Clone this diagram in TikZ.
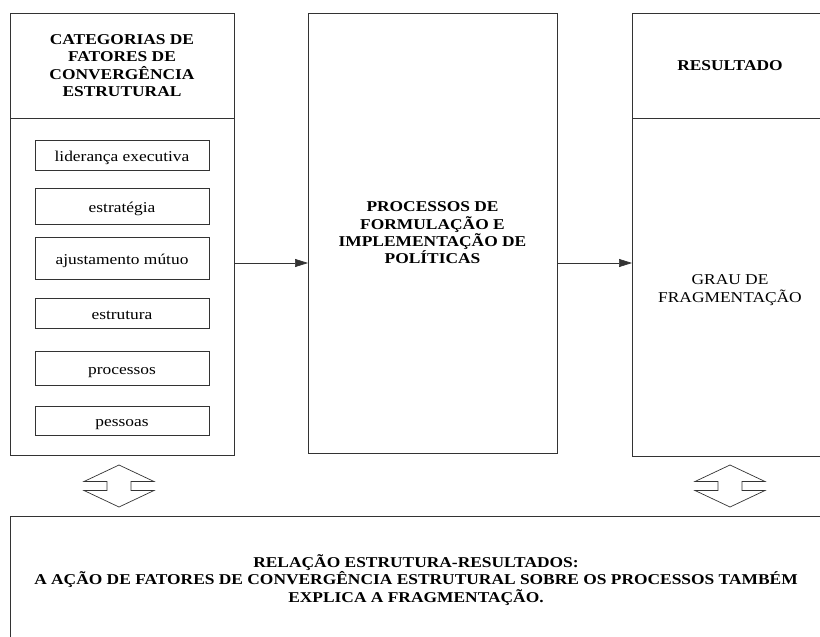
\documentclass[tikz,border=0pt]{standalone}
\usepackage{fontspec}
\setmainfont{Liberation Serif}[FakeStretch=1.16]
\usetikzlibrary{positioning, arrows.meta}

\tikzset{
  dblarrow/.pic={
    \draw[draw=black!80, line width=0.7pt]
      (-35,-4.5) -- (0,-21) -- (35,-4.5) -- (12,-4.5) -- (12,4.5) -- (35,4.5)
      -- (0,21) -- (-35,4.5) -- (-12,4.5) -- (-12,-4.5) -- cycle;
  }
}

\begin{document}
\begin{tikzpicture}[x=1pt,y=-1pt,
    frame/.style={draw=black!80, line width=0.7pt, rectangle, inner sep=0pt, outer sep=0pt},
    box/.style={frame, align=center},
    txt/.style={font=\fontsize{15}{17.4}\selectfont},
    head/.style={font=\fontsize{15}{17.4}\selectfont\bfseries},
    item/.style={frame, txt, minimum width=174pt, text height=12.8pt, text depth=0pt},
    arr/.style={-{Triangle[length=13pt,width=8pt]}, draw=black!80, line width=0.7pt}]
    \useasboundingbox (0,0) rectangle (820,637);

    % left column
    \node[box, head, minimum width=224pt, minimum height=105pt] (cat) at (122,65.5)
        {CATEGORIAS DE\\FATORES DE\\CONVERGÊNCIA\\ESTRUTURAL};
    \node[frame, minimum width=224pt, minimum height=337pt, below=0pt of cat] (catbody) {};

    \node[item, minimum height=30pt] (lid) at (122,155) {liderança executiva};
    \node[item, minimum height=36pt] (estr) at (122,206) {estratégia};
    \node[item, minimum height=42pt] (ajus) at (122,258) {ajustamento mútuo};
    \node[item, minimum height=30pt] (estru) at (122,313) {estrutura};
    \node[item, minimum height=34pt] (proc1) at (122,368) {processos};
    \node[item, minimum height=29pt] (pess) at (122,420.5) {pessoas};

    % middle
    \node[box, head, minimum width=249pt, minimum height=440pt] (proc) at (432.5,233)
        {PROCESSOS DE\\FORMULAÇÃO E\\IMPLEMENTAÇÃO DE\\POLÍTICAS};

    % right column
    \node[box, head, minimum width=196pt, minimum height=105pt] (res) at (730,65.5) {RESULTADO};
    \node[frame, minimum width=196pt, minimum height=338pt, below=0pt of res] (grau) {};
    \node[txt, align=center] (grautxt) at ([yshift=-3pt]grau.center) {GRAU DE\\FRAGMENTAÇÃO};

    % bottom
    \node[box, head, minimum width=812pt, minimum height=128pt, anchor=north west] (rel) at (10,516)
        {RELAÇÃO ESTRUTURA-RESULTADOS:\\A AÇÃO DE FATORES DE CONVERGÊNCIA ESTRUTURAL SOBRE OS PROCESSOS TAMBÉM\\EXPLICA A FRAGMENTAÇÃO.};

    \coordinate (lvl) at (0,263);
    \draw[arr] (catbody.east |- lvl) -- (proc.west |- lvl);
    \draw[arr] (proc.east |- lvl) -- (grau.west |- lvl);

    \pic (lflow) at (119,486) {dblarrow};
    \pic (rflow) at (730,486) {dblarrow};
\end{tikzpicture}
\end{document}
